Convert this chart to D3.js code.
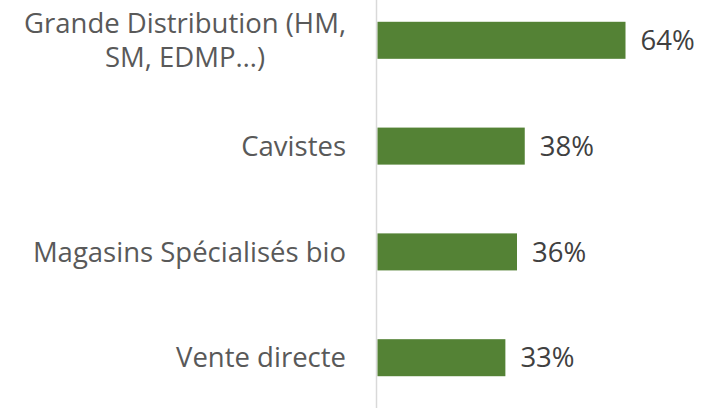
<!DOCTYPE html>
<html>
<head>
<meta charset="utf-8">
<script src="https://cdnjs.cloudflare.com/ajax/libs/d3/7.8.5/d3.min.js"></script>
<style>
  body { margin: 0; background: #fff; }
  text { font-family: "Open Sans", "Liberation Sans", sans-serif; }
</style>
</head>
<body>
<div id="chart"></div>
<script>
// data
let categories = ["Grande Distribution (HM, SM, EDMP…)", "Cavistes", "Magasins Spécialisés bio", "Vente directe"];
let labelLines = [["Grande Distribution (HM,", "SM, EDMP…)"], ["Cavistes"], ["Magasins Spécialisés bio"], ["Vente directe"]];
let values = [0.64, 0.38, 0.36, 0.33];

let width = 704,
  height = 408,
  axisX = 377.5,
  fontSize = 27.5;

let svg = d3
  .select("#chart")
  .append("svg")
  .attr("width", width)
  .attr("height", height);

// scales
let xScale = d3.scaleLinear().domain([0, 0.8]).range([axisX, axisX + 310]);
let yScale = d3
  .scaleBand()
  .domain(categories)
  .range([-12.6, 410.6])
  .paddingInner(0.65)
  .paddingOuter(0.325);

// vertical axis line
svg
  .append("line")
  .attr("x1", axisX - 1)
  .attr("x2", axisX - 1)
  .attr("y1", 0)
  .attr("y2", height)
  .attr("stroke", "#d9d9d9")
  .attr("stroke-width", 1.5);

// bars
svg
  .selectAll("rect.bar")
  .data(values)
  .enter()
  .append("rect")
  .attr("class", "bar")
  .attr("x", xScale(0))
  .attr("y", (d, i) => yScale(categories[i]))
  .attr("width", (d) => xScale(d) - xScale(0))
  .attr("height", yScale.bandwidth())
  .attr("fill", "#548235");

// value labels
svg
  .selectAll("text.val")
  .data(values)
  .enter()
  .append("text")
  .attr("class", "val")
  .attr("x", (d) => xScale(d) + 15)
  .attr("y", (d, i) => yScale(categories[i]) + yScale.bandwidth() / 2)
  .attr("dy", "0.35em")
  .attr("font-size", fontSize)
  .attr("fill", "#404040")
  .text((d) => Math.round(d * 100) + "%");

// category labels, wrapped lines centred on their block
let labelRight = 346,
  lineH = 34;
labelLines.forEach((lines, i) => {
  let g = svg.append("g");
  let cy = yScale(categories[i]) + yScale.bandwidth() / 2;
  let texts = lines.map((line, j) =>
    g
      .append("text")
      .attr("y", cy + (j - (lines.length - 1) / 2) * lineH)
      .attr("dy", "0.35em")
      .attr("font-size", fontSize)
      .attr("fill", "#595959")
      .attr("text-anchor", "middle")
      .text(line)
  );
  let maxW = d3.max(texts, (t) => t.node().getComputedTextLength());
  texts.forEach((t) => t.attr("x", labelRight - maxW / 2));
});
</script>
</body>
</html>
